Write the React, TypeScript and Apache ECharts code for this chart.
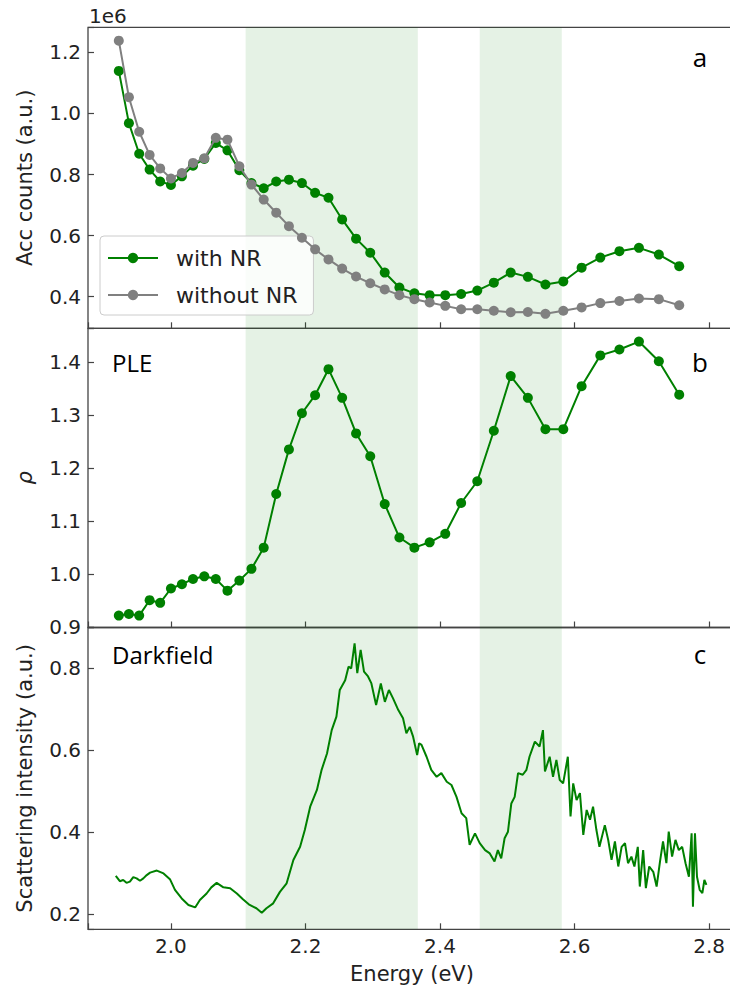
import React, { useEffect, useRef } from 'react';
import * as echarts from 'echarts';

// Excitation energies (eV) of the PLE measurement points
const energy = [
  1.9225, 1.9375, 1.9528, 1.9683, 1.984, 2.0, 2.0163, 2.0328, 2.0496, 2.0667,
  2.084, 2.1017, 2.1197, 2.1379, 2.1565, 2.1754, 2.1947, 2.2143, 2.2342, 2.2545,
  2.2752, 2.2963, 2.3178, 2.3396, 2.3619, 2.3846, 2.4078, 2.4314, 2.4554, 2.48,
  2.5051, 2.5306, 2.5567, 2.5833, 2.6105, 2.6383, 2.6667, 2.6957, 2.7253, 2.7556,
];
// Accumulated counts, units of 1e6
const withNR = [
  1.139, 0.968, 0.868, 0.816, 0.777, 0.766, 0.794, 0.829, 0.851, 0.903,
  0.879, 0.814, 0.772, 0.755, 0.777, 0.783, 0.772, 0.74, 0.724, 0.653,
  0.59, 0.544, 0.479, 0.43, 0.411, 0.405, 0.405, 0.409, 0.42, 0.446,
  0.479, 0.465, 0.44, 0.45, 0.495, 0.528, 0.549, 0.56, 0.538, 0.5,
];
const withoutNR = [
  1.238, 1.053, 0.94, 0.864, 0.82, 0.787, 0.805, 0.838, 0.853, 0.92,
  0.914, 0.827, 0.767, 0.718, 0.675, 0.631, 0.593, 0.555, 0.522, 0.492,
  0.466, 0.444, 0.424, 0.405, 0.392, 0.381, 0.37, 0.359, 0.359, 0.354,
  0.349, 0.35, 0.344, 0.354, 0.365, 0.379, 0.386, 0.394, 0.392, 0.372,
];
// Enhancement ratio rho
const rho = [
  0.922, 0.925, 0.922, 0.951, 0.946, 0.973, 0.981, 0.991, 0.996, 0.991,
  0.969, 0.988, 1.01, 1.05, 1.151, 1.235, 1.303, 1.337, 1.386, 1.332,
  1.265, 1.222, 1.132, 1.069, 1.05, 1.06, 1.076, 1.134, 1.175, 1.27,
  1.373, 1.332, 1.273, 1.273, 1.354, 1.412, 1.423, 1.438, 1.401, 1.338,
];
// Darkfield scattering spectrum
const dfEnergy = [
  1.918, 1.924, 1.929, 1.934, 1.939, 1.944, 1.949, 1.954, 1.959, 1.964, 1.969, 1.979, 1.989, 1.9985,
  2.006, 2.016, 2.026, 2.036, 2.043, 2.053, 2.06, 2.068, 2.078, 2.088, 2.098, 2.107, 2.117,
  2.127, 2.135, 2.142, 2.152, 2.162, 2.172, 2.182, 2.192, 2.199, 2.207, 2.217, 2.224, 2.232,
  2.239, 2.246, 2.251, 2.259, 2.264, 2.268, 2.273, 2.277, 2.282, 2.287, 2.293, 2.298, 2.305,
  2.312, 2.318, 2.324, 2.33, 2.338, 2.345, 2.35, 2.355, 2.36, 2.366, 2.369, 2.3725, 2.38,
  2.387, 2.395, 2.402, 2.41, 2.417, 2.4245, 2.432, 2.439, 2.444, 2.452, 2.459, 2.467, 2.474,
  2.481, 2.486, 2.491, 2.496, 2.501, 2.506, 2.511, 2.516, 2.523, 2.5285, 2.533, 2.541, 2.548,
  2.553, 2.556, 2.563, 2.568, 2.573, 2.578, 2.583, 2.59, 2.594, 2.598, 2.603, 2.608, 2.613,
  2.618, 2.623, 2.6275, 2.6325, 2.637, 2.645, 2.65, 2.655, 2.66, 2.665, 2.67, 2.675, 2.6795,
  2.6845, 2.689, 2.694, 2.697, 2.702, 2.706, 2.711, 2.717, 2.722, 2.727, 2.7315, 2.7365, 2.74,
  2.745, 2.75, 2.755, 2.76, 2.765, 2.77, 2.774, 2.776, 2.779, 2.782, 2.786, 2.79, 2.793, 2.796,
];
const dfIntensity = [
  0.293, 0.28, 0.283, 0.276, 0.279, 0.29, 0.287, 0.281, 0.287, 0.295, 0.301, 0.306, 0.299, 0.285,
  0.259, 0.238, 0.222, 0.216, 0.234, 0.25, 0.265, 0.276, 0.265, 0.263, 0.25, 0.236, 0.222,
  0.214, 0.203, 0.214, 0.226, 0.254, 0.275, 0.332, 0.364, 0.405, 0.462, 0.503, 0.552, 0.592,
  0.649, 0.682, 0.747, 0.771, 0.804, 0.8, 0.861, 0.788, 0.845, 0.792, 0.78, 0.763, 0.71,
  0.763, 0.718, 0.747, 0.727, 0.698, 0.678, 0.641, 0.657, 0.633, 0.588, 0.617, 0.613, 0.584,
  0.552, 0.535, 0.544, 0.523, 0.515, 0.486, 0.446, 0.434, 0.369, 0.397, 0.373, 0.356, 0.348,
  0.328, 0.356, 0.336, 0.385, 0.401, 0.47, 0.486, 0.544, 0.54, 0.552, 0.584, 0.621, 0.609,
  0.649, 0.548, 0.584, 0.535, 0.576, 0.527, 0.519, 0.584, 0.438, 0.519, 0.478, 0.495, 0.393,
  0.454, 0.43, 0.462, 0.405, 0.364, 0.417, 0.381, 0.332, 0.377, 0.316, 0.364, 0.373, 0.324,
  0.34, 0.316, 0.364, 0.267, 0.356, 0.263, 0.316, 0.303, 0.267, 0.328, 0.377, 0.324, 0.401,
  0.34, 0.381, 0.356, 0.364, 0.324, 0.291, 0.397, 0.218, 0.397, 0.291, 0.259, 0.251, 0.283, 0.271,
];
// Shaded resonance bands (eV)
const bandStart = [2.111, 2.459];
const bandEnd = [2.367, 2.581];
const panelLetters = ['a', 'b', 'c'];
const panelTitles = ['', 'PLE', 'Darkfield'];

const GREEN = '#008000';
const GRAY = '#808080';
const FRAME = '#444444';
const TEXT = '#222222';
const FONT = 'DejaVu Sans';
const LABEL_FONT = 'Open Sans';

function pairs(xs: number[], ys: number[]) {
  return xs.map((x, i) => [x, ys[i]]);
}

function stepLabel(step: number, digits: number) {
  return (v: number) => {
    const k = v / step;
    return Math.abs(k - Math.round(k)) < 1e-6 ? v.toFixed(digits) : '';
  };
}

const bands = bandStart.map((s, i) => [{ xAxis: s }, { xAxis: bandEnd[i] }]);
const markArea = {
  silent: true,
  label: { show: false },
  itemStyle: { color: 'rgba(0,128,0,0.1)' },
  data: bands,
};

export default function App() {
  const ref = useRef<HTMLDivElement>(null);
  useEffect(() => {
    document.body.style.margin = '0';
    document.body.style.overflow = 'hidden';
    if (!ref.current) return;
    const chart = echarts.init(ref.current, undefined, { renderer: 'svg' });

    const gridTops = [27.3, 328.3, 627.5];
    const gridHeights = [301, 299.2, 301.8];
    const yMin = [0.2966, 0.8996, 0.1626];
    const yMax = [1.2818, 1.463, 0.8996];
    const ySteps = [0.2, 0.1, 0.2];
    const yNames = ['Acc counts (a.u.)', 'ρ', 'Scattering intensity (a.u.)'];

    const grid = gridTops.map((t, i) => ({
      left: 88,
      width: 648,
      top: t,
      height: gridHeights[i],
      show: true,
      borderColor: FRAME,
      borderWidth: 1.3,
      backgroundColor: 'transparent',
    }));

    const xAxis = [0, 1, 2].map((i) => ({
      type: 'value',
      gridIndex: i,
      min: 1.8767,
      max: 2.84,
      splitNumber: 5,
      minInterval: 0.2,
      maxInterval: 0.2,
      splitLine: { show: false },
      axisLine: { show: false },
      axisTick: { show: true, inside: true, length: 6, lineStyle: { color: FRAME, width: 1.2 } },
      axisLabel: {
        show: i === 2,
        margin: 7,
        fontFamily: FONT,
        fontSize: 20,
        color: TEXT,
        formatter: stepLabel(0.2, 1),
      },
      name: i === 2 ? 'Energy (eV)' : '',
      nameLocation: 'middle',
      nameGap: 34,
      nameTextStyle: { fontFamily: FONT, fontSize: 21, color: TEXT },
    }));

    const yAxis = [0, 1, 2].map((i) => ({
      type: 'value',
      gridIndex: i,
      min: yMin[i],
      max: yMax[i],
      splitNumber: 5,
      minInterval: ySteps[i],
      maxInterval: ySteps[i],
      splitLine: { show: false },
      axisLine: { show: false },
      axisTick: { show: true, inside: true, length: 6, lineStyle: { color: FRAME, width: 1.2 } },
      axisLabel: {
        margin: 7,
        fontFamily: FONT,
        fontSize: 20,
        color: TEXT,
        formatter: stepLabel(ySteps[i], 1),
      },
      name: yNames[i],
      nameLocation: 'middle',
      nameGap: 53,
      nameTextStyle: {
        fontFamily: FONT,
        fontSize: 21,
        color: TEXT,
        fontStyle: i === 1 ? 'italic' : 'normal',
      },
    }));

    const letterY = [57, 362, 654];
    const titleY = [0, 362.7, 654.7];
    const graphic: any[] = [
      {
        type: 'text',
        x: 89,
        y: 16,
        style: { text: '1e6', fontFamily: FONT, fontSize: 20, fill: TEXT, verticalAlign: 'middle' },
      },
    ];
    panelLetters.forEach((l, i) => {
      graphic.push({
        type: 'text',
        x: 700,
        y: letterY[i],
        style: { text: l, fontFamily: LABEL_FONT, fontSize: 26, fill: '#000', align: 'center', verticalAlign: 'middle' },
      });
      if (panelTitles[i]) {
        graphic.push({
          type: 'text',
          x: 112,
          y: titleY[i],
          style: { text: panelTitles[i], fontFamily: LABEL_FONT, fontSize: 24, fill: '#000', align: 'left', verticalAlign: 'middle' },
        });
      }
    });

    chart.setOption({
      animation: false,
      textStyle: { fontFamily: FONT },
      grid,
      xAxis,
      yAxis,
      legend: {
        data: ['with NR', 'without NR'],
        orient: 'vertical',
        left: 100,
        top: 236,
        itemWidth: 50,
        itemHeight: 13,
        itemGap: 13,
        padding: [10, 16, 8, 7],
        backgroundColor: 'rgba(255,255,255,0.8)',
        borderColor: '#cccccc',
        borderWidth: 1,
        borderRadius: 4,
        selectedMode: false,
        textStyle: { fontFamily: FONT, fontSize: 22, color: TEXT, lineHeight: 24, padding: [0, 0, 0, 13] },
      },
      graphic,
      series: [
        {
          type: 'line',
          name: 'with NR',
          xAxisIndex: 0,
          yAxisIndex: 0,
          data: pairs(energy, withNR),
          symbol: 'circle',
          symbolSize: 10,
          showSymbol: true,
          lineStyle: { color: GREEN, width: 2 },
          itemStyle: { color: GREEN },
          z: 3,
          markArea,
        },
        {
          type: 'line',
          name: 'without NR',
          xAxisIndex: 0,
          yAxisIndex: 0,
          data: pairs(energy, withoutNR),
          symbol: 'circle',
          symbolSize: 10,
          showSymbol: true,
          lineStyle: { color: GRAY, width: 2 },
          itemStyle: { color: GRAY },
          z: 4,
        },
        {
          type: 'line',
          name: 'rho',
          xAxisIndex: 1,
          yAxisIndex: 1,
          data: pairs(energy, rho),
          symbol: 'circle',
          symbolSize: 10,
          showSymbol: true,
          lineStyle: { color: GREEN, width: 2 },
          itemStyle: { color: GREEN },
          z: 3,
          markArea,
        },
        {
          type: 'line',
          name: 'Darkfield',
          xAxisIndex: 2,
          yAxisIndex: 2,
          data: pairs(dfEnergy, dfIntensity),
          symbol: 'none',
          showSymbol: false,
          lineStyle: { color: GREEN, width: 2 },
          z: 3,
          markArea,
        },
      ],
    });
    return () => chart.dispose();
  }, []);
  return (
    <div
      style={{ position: 'absolute', left: 0, top: 0, width: 730, height: 993, overflow: 'hidden', background: '#fff' }}
    >
      <div ref={ref} style={{ width: 750, height: 993 }} />
    </div>
  );
}
